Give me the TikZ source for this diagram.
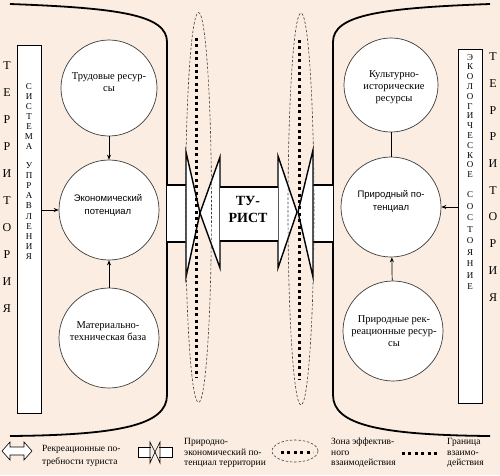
\documentclass[tikz,border=0pt]{standalone}
\usepackage{fontspec}
\setmainfont{Liberation Serif}
\newfontfamily\arialf{Liberation Sans}
\usetikzlibrary{arrows.meta}
\definecolor{bgpeach}{RGB}{251,237,225}
\definecolor{circline}{RGB}{60,60,60}
\begin{document}
\begin{tikzpicture}[x=1pt,y=-1pt,
  cont/.style={line width=1.8pt, black},
  circ/.style={circle, draw=circline, line width=0.7pt, fill=white, inner sep=0pt, minimum size=#1},
  ctext/.style={align=center, font=\fontsize{10.5}{12}\selectfont, inner sep=0pt},
  stext/.style={align=center, font=\arialf\fontsize{9.5}{13}\selectfont, inner sep=0pt},
  vbox/.style={draw=black, line width=0.8pt, fill=white, inner sep=0pt, minimum width=24pt},
  terr/.style={align=center, inner sep=0pt, font=\fontsize{12}{#1}\selectfont},
  vlet/.style={align=center, inner sep=0pt, font=\fontsize{9}{#1}\selectfont},
  arr/.style={-{Stealth[length=5pt,width=4pt]}, line width=0.7pt, black},
  blk/.style={line width=1.4pt, black},
  ell/.style={draw=black!75, line width=0.6pt, dash pattern=on 2.5pt off 1.8pt},
  sqdot/.style={line width=3pt, black, dash pattern=on 3pt off 3.4pt},
  ltext/.style={align=left, inner sep=0pt, anchor=west, font=\fontsize{9.5}{#1}\selectfont}
]
\useasboundingbox (0,0) rectangle (500,475);
\fill[bgpeach] (0,0) rectangle (500,475);

% containers
\draw[cont] (10,4) .. controls (120,8) and (167,15) .. (167,42) -- (167,395) .. controls (167,425) and (120,435) .. (10,436);
\draw[cont] (490,4) .. controls (380,8) and (333,15) .. (333,42) -- (333,395) .. controls (333,425) and (380,435) .. (490,436);

% side boxes
\node[vbox, minimum height=368pt] (sys) at (29,229) {};
\node[vbox, minimum height=354pt] (eco) at (470,226) {};
\node[vlet=10] (sysA) at (29,117) {С\\И\\С\\Т\\Е\\М\\А};
\node[vlet=10.2] (sysB) at (29,211) {У\\П\\Р\\А\\В\\Л\\Е\\Н\\И\\Я};
\node[vlet=9.8] (ecoA) at (470,116) {Э\\К\\О\\Л\\О\\Г\\И\\Ч\\Е\\С\\К\\О\\Е};
\node[vlet=11.5] (ecoB) at (470,241) {С\\О\\С\\Т\\О\\Я\\Н\\И\\Е};
\node[terr=27] (terrL) at (7,187.5) {Т\\Е\\Р\\Р\\И\\Т\\О\\Р\\И\\Я};
\node[terr=26.7] (terrR) at (493,177) {Т\\Е\\Р\\Р\\И\\Т\\О\\Р\\И\\Я};

% circles
\node[circ=96pt] (c1) at (109,88) {};
\node[circ=100pt] (c2) at (109,210) {};
\node[circ=100pt] (c3) at (109,338) {};
\node[circ=94pt] (c4) at (391,85) {};
\node[circ=100pt] (c5) at (391,207) {};
\node[circ=100pt] (c6) at (393,331) {};
\node[ctext] (t1) at (109,82) {Трудовые ресур-\\сы};
\node[stext] (t2) at (108,205) {Экономический\\потенциал};
\node[ctext] (t3) at (108,331) {Материально-\\техническая база};
\node[ctext] (t4) at (394,87) {Культурно-\\исторические\\ресурсы};
\node[stext] (t5) at (391,201.5) {Природный по-\\тенциал};
\node[ctext] (t6) at (394,331) {Природные рек-\\реационные ресур-\\сы};

\draw[arr] (c1) -- (c2);
\draw[arr] (c3) -- (c2);
\draw[arr] (sys.east |- c2) -- (c2.west);
\draw[line width=0.7pt] (c4) -- (c5);
\draw[arr] (c6) -- (c5);
\draw[arr] (eco.west |- c5) -- (c5.east);

% potential block arrows
\fill[white] (167,185) rectangle (186,242);
\draw[blk] (167,185) -- (186,185) (167,242) -- (186,242);
\draw[blk, fill=white] (186,152) -- (200,213) -- (186,277) -- cycle;
\fill[white] (313,185) rectangle (333,242);
\draw[blk] (313,185) -- (333,185) (313,242) -- (333,242);
\draw[blk, fill=white] (313,150) -- (298,212) -- (313,277) -- cycle;

% tourist double arrow
\draw[blk, fill=white] (220,157) -- (200,213) -- (220,268) -- cycle;
\draw[blk, fill=white] (278,156) -- (297,212) -- (278,268) -- cycle;
\fill[white] (220,187) rectangle (278,241);
\draw[line width=2.6pt] (220,187) -- (278,187) (220,241) -- (278,241);
\node[align=center, inner sep=0pt, font=\bfseries\fontsize{14}{17}\selectfont] (tur) at (248,209) {ТУ-\\РИСТ};

% zones
\draw[ell] (198.5,207.5) ellipse [x radius=13, y radius=195];
\draw[ell] (301,209) ellipse [x radius=13, y radius=196];
\draw[sqdot] (196,38) -- (196,378);
\draw[sqdot] (299,40) -- (299,380);

% legend
\draw[line width=0.6pt, fill=white] (2,451) -- (10,442) -- (10,447) -- (24,447) -- (24,442) -- (32,451) -- (24,460) -- (24,455) -- (10,455) -- (10,460) -- cycle;
\node[ltext=13] (lt1) at (42,456) {Рекреационные по-\\требности туриста};

\draw[line width=0.6pt, fill=white] (151,447) -- (138,447) -- (138,457) -- (151,457);
\draw[line width=0.6pt, fill=white] (159,447) -- (172,447) -- (172,457) -- (159,457);
\draw[line width=0.6pt] (150,442) -- (155,452) -- (150,463) -- cycle;
\draw[line width=0.6pt] (160,442) -- (155,452) -- (160,463) -- cycle;
\node[ltext=10.5] (lt2) at (184,453) {Природно-\\экономический по-\\тенциал территории};

\draw[ell] (295,451) ellipse [x radius=23, y radius=11];
\draw[sqdot] (281,452) -- (313,452);
\node[ltext=10.5] (lt3) at (331,453) {Зона эффектив-\\ного\\взаимодействия};

\draw[sqdot] (402,453) -- (438,453);
\node[ltext=10.5] (lt4) at (447,453) {Граница\\взаимо-\\действия};
\end{tikzpicture}
\end{document}
